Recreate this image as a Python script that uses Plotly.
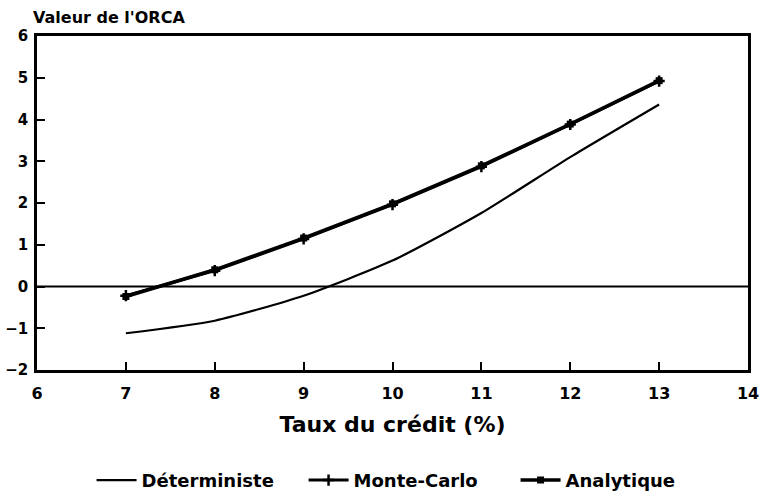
import plotly.graph_objects as go

taux = [7, 8, 9, 10, 11, 12, 13]
deterministe = [-1.12, -0.82, -0.22, 0.62, 1.76, 3.1, 4.36]
monte_carlo = [-0.22, 0.38, 1.14, 1.96, 2.87, 3.88, 4.92]
analytique = [-0.24, 0.40, 1.16, 1.98, 2.89, 3.89, 4.93]
x_ticks = [6, 7, 8, 9, 10, 11, 12, 13, 14]
y_ticks = [-2, -1, 0, 1, 2, 3, 4, 5, 6]

FONT = "DejaVu Sans"

fig = go.Figure()
fig.add_trace(go.Scatter(x=taux, y=deterministe, mode="lines", name="Déterministe",
                         line=dict(color="black", width=2.2, shape="spline", smoothing=0.6)))
fig.add_trace(go.Scatter(x=taux, y=monte_carlo, mode="lines+markers", name="Monte-Carlo",
                         line=dict(color="black", width=3),
                         marker=dict(symbol="cross-thin", size=8, line=dict(color="black", width=2.5))))
fig.add_trace(go.Scatter(x=taux, y=analytique, mode="lines+markers", name="Analytique",
                         line=dict(color="black", width=3.5),
                         marker=dict(symbol="square", size=7, color="black")))

fig.add_hline(y=0, line=dict(color="black", width=2))

fig.update_layout(
    width=760, height=492,
    margin=dict(l=37, r=12, t=36, b=122, autoexpand=False),
    plot_bgcolor="white", paper_bgcolor="white",
    font=dict(family=FONT, color="black", size=13, weight="bold"),
    showlegend=True,
    legend=dict(orientation="h", x=0.524, xanchor="center", y=-0.275, yanchor="top",
                font=dict(size=18, weight="bold"), itemwidth=40, entrywidth=157),
    xaxis=dict(range=[6, 14], tickvals=x_ticks, ticks="inside", ticklen=8, tickwidth=2,
               tickcolor="black", showline=True, linecolor="black", linewidth=2.5, mirror=True,
               showgrid=False, zeroline=False, ticklabelstandoff=7, automargin=False,
               tickfont=dict(size=16, weight="bold"),
               title=dict(text="Taux du crédit (%)", font=dict(size=22, weight="bold"), standoff=15)),
    yaxis=dict(range=[-2, 6], tickvals=y_ticks, ticks="inside", ticklen=8, tickwidth=2,
               tickcolor="black", showline=True, linecolor="black", linewidth=2.5, mirror=True,
               showgrid=False, zeroline=False, ticklabelstandoff=3, automargin=False,
               tickfont=dict(size=15, weight="bold")),
    annotations=[dict(text="Valeur de l'ORCA", x=0, xref="paper", xanchor="left",
                      xshift=-6, y=1, yref="paper", yanchor="bottom", yshift=7,
                      showarrow=False, font=dict(size=16, weight="bold"))],
)

# remove the default 8px body margin so the 760x492 figure fills the window exactly
fig.write_html("out.html", config={"displayModeBar": False},
               post_script="document.body.style.margin='0';")
